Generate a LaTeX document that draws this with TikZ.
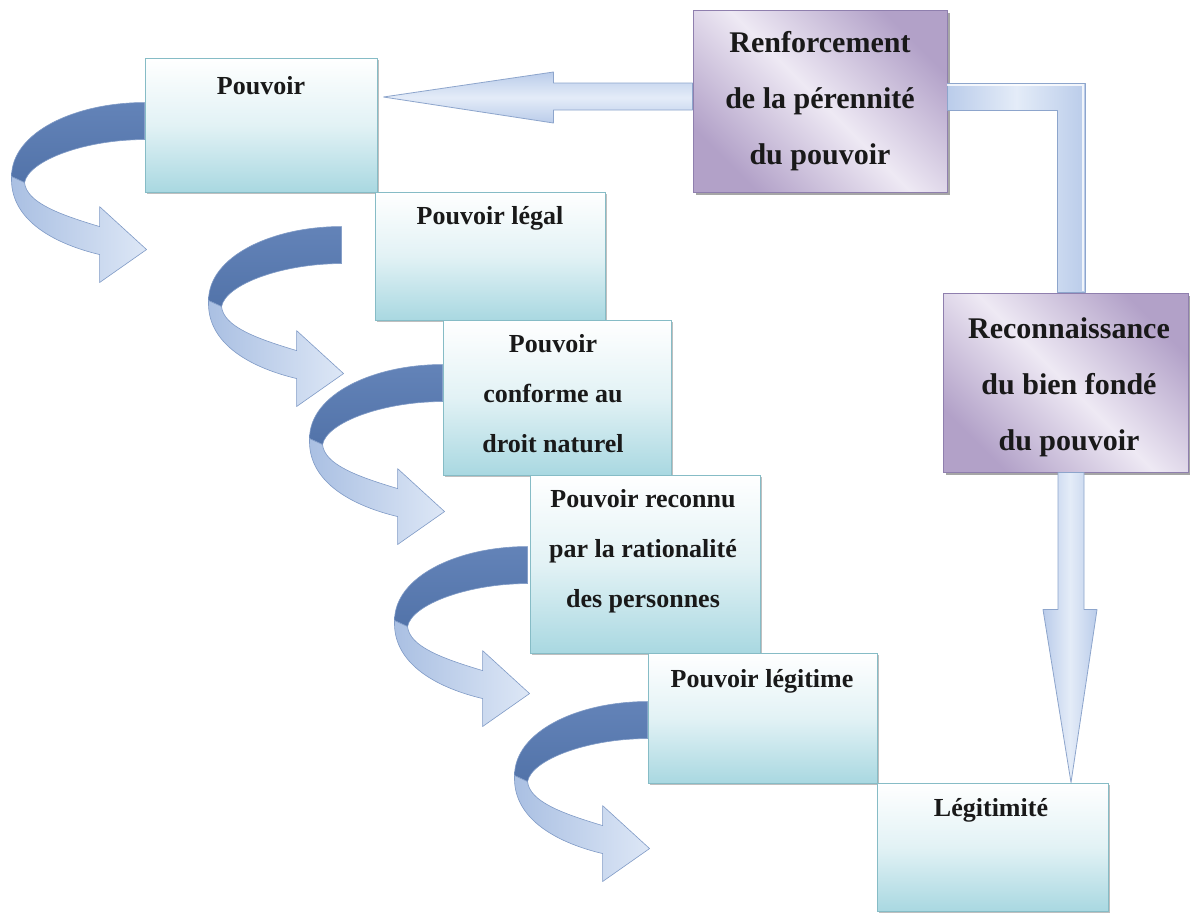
\documentclass[tikz,border=0pt]{standalone}
\usepackage{fontspec}
\setmainfont{Liberation Serif}
\usetikzlibrary{calc,shadows}
\definecolor{cyanbot}{HTML}{A9D8E1}
\definecolor{cyanmid}{HTML}{E2F2F5}
\definecolor{cyanedge}{HTML}{86BCC6}
\definecolor{purpdark}{HTML}{B2A1C8}
\definecolor{purplight}{HTML}{EEE9F4}
\definecolor{purpedge}{HTML}{8F7FAE}
\definecolor{arrlt}{HTML}{E4ECF8}
\definecolor{arrdk}{HTML}{BACCEA}
\definecolor{arredge}{HTML}{8DA5CC}
\definecolor{curldark}{HTML}{6383B8}
\definecolor{curldark2}{HTML}{5273A9}
\definecolor{curledge}{HTML}{7F9AC6}
\definecolor{curllt1}{HTML}{A9BFE2}
\definecolor{curllt2}{HTML}{DDE7F6}
\tikzset{
  cbox/.style={draw=cyanedge, line width=0.9pt, top color=white, bottom color=cyanbot, middle color=cyanmid, inner sep=0pt,
    drop shadow={shadow xshift=2pt, shadow yshift=-2pt, opacity=0.25, fill=black}},
  pbox/.style={draw=purpedge, line width=0.9pt, top color=purpdark, bottom color=purpdark, middle color=purplight, shading angle=135, inner sep=0pt,
    drop shadow={shadow xshift=3pt, shadow yshift=-3pt, opacity=0.35, fill=black}},
  ctext/.style={font=\fontsize{26}{50}\selectfont\bfseries, align=center, inner sep=0pt, text=black!90},
  ptext/.style={font=\fontsize{30}{56}\selectfont\bfseries, align=center, inner sep=0pt, text=black!90},
  arrowfill/.style={draw=arredge, line width=0.8pt, line join=round},
  curl/.pic={
    \shade[top color=curldark, bottom color=curldark2, draw=curledge, line width=0.6pt]
      (0,0) .. controls (-70,0) and (-133,30) .. (-133,74) -- (-120,80)
      .. controls (-116,58) and (-60,37) .. (0,37) -- cycle;
    \shade[left color=curllt1, right color=curllt2, draw=curledge, line width=0.6pt, line join=round]
      (-133,74) .. controls (-135,115) and (-95,140) .. (-45,152) -- (-45,180) -- (2,147) -- (-45,104) -- (-45,124)
      .. controls (-85,112) and (-118,100) .. (-120,80) -- cycle;
  }
}
\begin{document}
\begin{tikzpicture}[x=1pt,y=-1pt]
\useasboundingbox[fill=white] (0,0) rectangle (1190,914);

% boxes
\node[cbox, minimum width=232pt, minimum height=134pt] (p1) at (261,125) {};
\node[cbox, minimum width=230pt, minimum height=128pt] (p2) at (490,256) {};
\node[cbox, minimum width=228pt, minimum height=155pt] (p3) at (557,397.5) {};
\node[cbox, minimum width=230pt, minimum height=178pt] (p4) at (645,564) {};
\node[cbox, minimum width=229pt, minimum height=130pt] (p5) at (762.5,718) {};
\node[cbox, minimum width=231pt, minimum height=128pt] (p6) at (992.5,847) {};
\node[pbox, minimum width=254pt, minimum height=182pt] (ren) at (820,101) {};
\node[pbox, minimum width=245pt, minimum height=179pt] (rec) at (1065.5,382.5) {};

% texts
\node[ctext] (t1) at (261,86) {Pouvoir};
\node[ctext] (t2) at (490,218) {Pouvoir légal};
\node[ctext] (t3) at (553,394) {Pouvoir\\conforme au\\droit naturel};
\node[ctext] (t4) at (643,551) {Pouvoir reconnu\\par la rationalité\\des personnes};
\node[ctext] (t5) at (762,681) {Pouvoir légitime};
\node[ctext] (t6) at (991,810) {Légitimité};
\node[ptext] (t7) at (820,101) {Renforcement\\de la pérennité\\du pouvoir};
\node[ptext] (t8) at (1069,387) {Reconnaissance\\du bien fondé\\du pouvoir};

% curved arrows
\coordinate (s1) at ($(p1.north west)+(0,45)$);
\coordinate (s2) at ($(p2.north west)+(-33,35)$);
\coordinate (s3) at ($(p3.north west)+(0,45)$);
\coordinate (s4) at ($(p4.north west)+(-2,72)$);
\coordinate (s5) at ($(p5.north west)+(0,49)$);
\pic at (s1) {curl};
\pic at (s2) {curl};
\pic at (s3) {curl};
\pic at (s4) {curl};
\pic at (s5) {curl};

% straight arrow: Renforcement -> Pouvoir
\coordinate (a1s) at ($(ren.west)+(0,-4)$);
\coordinate (a1t) at ($(p1.east |- a1s)+(6,0)$);
\shade[arrowfill, top color=arrdk, bottom color=arrdk, middle color=arrlt]
  ($(a1s)+(0,-14)$) -- ($(a1t)+(170,-14)$) -- ($(a1t)+(170,-25)$) -- (a1t)
  -- ($(a1t)+(170,26)$) -- ($(a1t)+(170,13)$) -- ($(a1s)+(0,13)$) -- cycle;

% elbow: Renforcement -> Reconnaissance
\coordinate (e1) at ($(ren.east)+(0,-4)$);
\coordinate (e2) at ($(rec.north)+(5.5,0)$);
\shade[arrowfill, left color=arrdk, right color=arrdk, middle color=arrlt]
  ($(e1)+(0,-14)$) -- ($(e2 |- e1)+(14,-14)$) -- ($(e2)+(14,0)$) -- ($(e2)+(-14,0)$)
  -- ($(e2 |- e1)+(-14,13)$) -- ($(e1)+(0,13)$) -- cycle;
\draw[white, line width=1.2pt, opacity=0.8] ($(e1)+(0,-12)$) -- ($(e2 |- e1)+(12,-12)$) -- ($(e2)+(12,-2)$);

% vertical arrow: Reconnaissance -> Legitimite
\coordinate (v1) at ($(rec.south)+(5.5,0)$);
\coordinate (v2) at (v1 |- p6.north);
\shade[arrowfill, left color=arrdk, right color=arrdk, middle color=arrlt]
  ($(v1)+(-13,0)$) -- ($(v2)+(-13,-173)$) -- ($(v2)+(-28,-173)$) -- (v2)
  -- ($(v2)+(26,-173)$) -- ($(v2)+(13,-173)$) -- ($(v1)+(13,0)$) -- cycle;
\end{tikzpicture}
\end{document}
